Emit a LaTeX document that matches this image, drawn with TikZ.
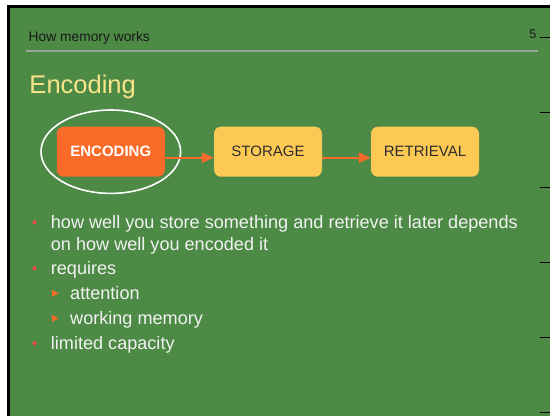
\documentclass[tikz,border=0pt]{standalone}
\usepackage{fontspec}
\setmainfont{Liberation Sans}
\usetikzlibrary{arrows.meta}
\definecolor{slidegreen}{RGB}{76,138,69}
\definecolor{titleyellow}{RGB}{250,228,140}
\definecolor{boxyellow}{RGB}{252,201,85}
\definecolor{boxorange}{RGB}{249,107,40}
\definecolor{dotred}{RGB}{233,78,69}
\definecolor{rulegray}{RGB}{156,165,154}
\definecolor{bodywhite}{RGB}{242,242,242}
\definecolor{boxtext}{RGB}{45,45,45}
\tikzset{
  stagebox/.style={rounded corners=7pt, minimum width=108pt, minimum height=50pt, inner sep=0pt,
    font=\fontsize{15}{18}\selectfont},
  flowarrow/.style={draw=boxorange, line width=2.4pt, -{Triangle[length=12pt,width=10pt]}},
  bodytext/.style={anchor=base west, inner sep=0pt, text=bodywhite, font=\fontsize{18.1}{22}\selectfont},
  tickmark/.style={draw=black, line width=1.5pt},
}
\begin{document}
\begin{tikzpicture}[x=1pt,y=-1pt]
\useasboundingbox (0,0) rectangle (550,416);
\fill[white] (0,0) rectangle (550,416);
\fill[black] (7,5) rectangle (550,416);
\fill[slidegreen] (9.5,8) rectangle (550,416);
% header
\node[anchor=base west, inner sep=0pt, text=black!90, font=\fontsize{13.8}{16}\selectfont] (hdr) at (28.5,41.5) {How memory works};
\node[anchor=base east, inner sep=0pt, text=black!90, font=\fontsize{12.6}{15}\selectfont] (pg) at (536.5,38.3) {5};
\draw[rulegray, line width=1.2pt] (26,51) -- (538,51);
% ticks
\foreach \ty in {37.7,112.7,187.7,262.3,337.7,412.3}
  \draw[tickmark] (539.5,\ty) -- (550,\ty);
% title
\node[anchor=base west, inner sep=0pt, text=titleyellow, font=\fontsize{25.5}{30}\selectfont] (title) at (29.3,93.3) {Encoding};
% flow boxes
\node[stagebox, fill=boxorange, text=white, font=\fontsize{15}{18}\selectfont\bfseries] (enc) at (110.8,151.7) {ENCODING};
\node[stagebox, fill=boxyellow, text=boxtext] (sto) at (268,151.7) {STORAGE};
\node[stagebox, fill=boxyellow, text=boxtext] (ret) at (425,151.7) {RETRIEVAL};
\draw[white, line width=1.6pt] (110.8,151.7) ellipse [x radius=69.8pt, y radius=41.7pt];
\draw[flowarrow] ([yshift=-6pt]enc.east) -- ([yshift=-6pt]sto.west);
\draw[flowarrow] ([yshift=-6pt]sto.east) -- ([yshift=-6pt]ret.west);
% bullets
\foreach \by in {222.3,268.3,343.3}
  \fill[dotred] (34.5,\by) circle (2.1pt);
\foreach \by in {293.3,318.3}
  \fill[boxorange] (52,\by-3.6) -- (58.5,\by) -- (52,\by+3.6) -- cycle;
\node[bodytext] (b1) at (50.7,228.3) {how well you store something and retrieve it later depends};
\node[bodytext] (b1b) at (50.7,250) {on how well you encoded it};
\node[bodytext] (b2) at (50.7,274.3) {requires};
\node[bodytext] (b2a) at (70,299.3) {attention};
\node[bodytext] (b2b) at (70,324.3) {working memory};
\node[bodytext] (b3) at (50.7,349.3) {limited capacity};
\end{tikzpicture}
\end{document}
